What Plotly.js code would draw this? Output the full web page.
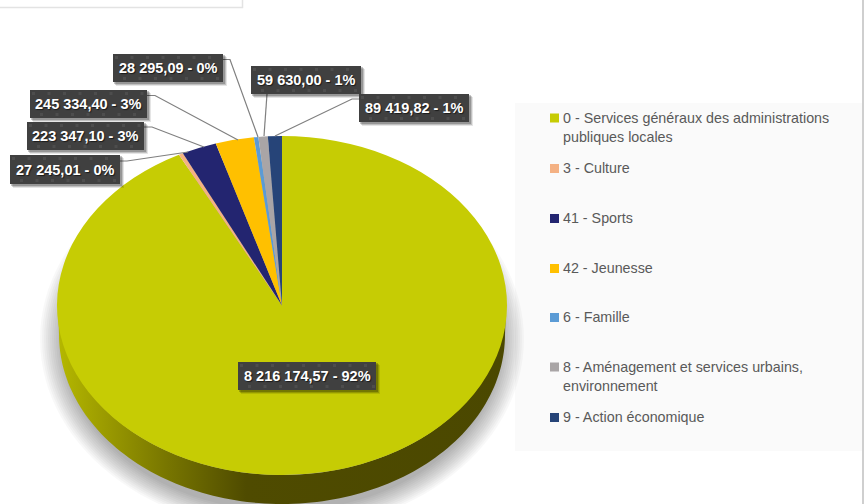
<!DOCTYPE html>
<html>
<head>
<meta charset="utf-8">
<script src="https://cdn.plot.ly/plotly-3.0.1.min.js"></script>
<style>html,body{margin:0;padding:0;background:#fff;overflow:hidden}</style>
</head>
<body>
<div id="chart" style="width:865px;height:504px"></div>
<script>
// ---- data ----
var categories = [
  "0 - Services généraux des administrations<br>publiques locales",
  "3 - Culture",
  "41 - Sports",
  "42 - Jeunesse",
  "6 - Famille",
  "8 - Aménagement et services urbains,<br>environnement",
  "9 - Action économique"
];
var amounts = [8216174.57, 27245.01, 223347.10, 245334.40, 28295.09, 59630.00, 89419.82];
var sliceColors = ["#c6cc04", "#f4b183", "#232570", "#ffc000", "#5b9bd5", "#a9a5a6", "#264478"];

// ---- layout constants (pixels) ----
var W = 865, H = 504;
var cx = 282, cy = 305.5, rx = 225, ry = 169.5, depth = 29;
// label box: left, top, right, bottom for each slice
var labelBoxes = [
  [238, 362, 376, 390], [10, 155, 120, 184], [27, 122, 144, 150], [30, 90, 147, 118],
  [113, 54, 223, 82], [251, 66, 361, 94], [359, 94, 469, 122]
];
var leaderPaths = [
  null,
  "M120,161L127,161L188,152",
  "M144,127L152,127L204,147",
  "M147,95.5L155,95.5L238,140",
  "M223,59.5L230,59.5L258,137",
  "M267,94L264,136",
  "M359,99L352,99L275,136"
];
var legendY = [110.5, 161, 211, 261, 310, 359.5, 410];

function px(x) { return x / W; }
function py(y) { return 1 - y / H; }

function arc(c, a, b, from, to, n) {
  var xs = [], ys = [];
  for (var i = 0; i <= n; i++) {
    var t = from + (to - from) * i / n;
    xs.push(cx + a * Math.cos(t));
    ys.push(c + b * Math.sin(t));
  }
  return {x: xs, y: ys};
}

var traces = [];
// soft drop shadow behind the disc
for (var s = 0; s < 12; s++) {
  var e = arc(339, 220 + s * 2, 172 + s * 1.8, 0, 2 * Math.PI, 120);
  traces.push({type: "scatter", mode: "none", x: e.x, y: e.y, fill: "toself",
    fillcolor: "rgba(0,0,0,0.026)", hoverinfo: "skip", showlegend: false});
}
// side wall of the disc
var outer = arc(cy + depth, rx - 2, ry, 0, Math.PI, 120);
var inner = arc(cy, rx - 1, ry, Math.PI, 0, 120);
traces.push({type: "scatter", mode: "none",
  x: outer.x.concat(inner.x), y: outer.y.concat(inner.y), fill: "toself",
  fillgradient: {type: "horizontal", colorscale: [
    [0, "#b5b800"], [0.1, "#9c9c00"], [0.25, "#767400"], [0.42, "#4f4b00"], [1, "#4b4800"]
  ]},
  hoverinfo: "skip", showlegend: false});
// top face
traces.push({type: "pie", labels: categories, values: amounts, sort: false,
  direction: "clockwise", rotation: 0, textinfo: "none", showlegend: false,
  marker: {colors: sliceColors, line: {width: 0}},
  domain: {x: [px(cx - ry), px(cx + ry)], y: [py(cy + ry), py(cy - ry)]}
});

var total = amounts.reduce(function (a, b) { return a + b; }, 0);
function fmt(v) {
  var p = v.toFixed(2).split(".");
  return p[0].replace(/\B(?=(\d{3})+$)/g, " ") + "," + p[1] + " - " + Math.round(v / total * 100) + "%";
}

var shapes = [
  {type: "rect", layer: "below", xref: "paper", yref: "paper", x0: px(515), x1: px(862), y0: py(451), y1: py(103),
    fillcolor: "#fafafa", line: {width: 0}},
  {type: "path", xref: "x", yref: "y", path: "M0,7.5L242.5,7.5L242.5,0", line: {color: "#e3e3e3", width: 1.5}},
  {type: "rect", xref: "x", yref: "y", x0: 862, x1: 864, y0: 0, y1: 504, fillcolor: "#cfcfcf", line: {width: 0}}
];
function box(x0, y0, x1, y1, color) {
  shapes.push({type: "rect", xref: "x", yref: "y", x0: x0, x1: x1, y0: y0, y1: y1,
    fillcolor: color, line: {width: 0}});
}
var annotations = [];
labelBoxes.forEach(function (b, i) {
  if (leaderPaths[i]) shapes.push({type: "path", xref: "x", yref: "y", path: leaderPaths[i],
    line: {color: "#7f7f7f", width: 1.2}});
  [[4, 0.10], [3, 0.16], [2, 0.22]].forEach(function (d) {
    box(b[0] + d[0] - 1, b[1] + d[0] - 1, b[2] + d[0], b[3] + d[0], "rgba(0,0,0," + d[1] + ")");
  });
  box(b[0], b[1], b[2], b[3], "#404040");
  // faint dotted texture of the label boxes
  for (var dx = b[0] + 2; dx < b[2] - 3; dx += 15.5) {
    box(dx, b[1] + 2, dx + 3, b[1] + 5, "#4d4d4d");
    if (dx + 8 < b[2] - 3) box(dx + 8, b[3] - 5, dx + 11, b[3] - 2, "#4d4d4d");
  }
  annotations.push({xref: "x", yref: "y", x: (b[0] + b[2]) / 2, y: (b[1] + b[3]) / 2,
    xanchor: "center", yanchor: "middle", showarrow: false, text: fmt(amounts[i]),
    borderpad: 0,
    font: {family: "Liberation Sans, Arial, sans-serif", size: 14.5, color: "#ffffff", weight: 700,
      shadow: "1px 1px 1px rgba(0,0,0,0.6)"}});
});
categories.forEach(function (c, i) {
  box(550, legendY[i] + 3, 559, legendY[i] + 12, sliceColors[i]);
  annotations.push({xref: "x", yref: "y", x: 562, y: legendY[i] - 2, xanchor: "left", yanchor: "top", align: "left",
    showarrow: false, text: c, borderpad: 0,
    font: {family: "Liberation Sans, Arial, sans-serif", size: 14.3, color: "#595959"}});
});

var layout = {
  width: W, height: H, margin: {l: 0, r: 0, t: 0, b: 0}, showlegend: false,
  paper_bgcolor: "#ffffff", plot_bgcolor: "rgba(0,0,0,0)",
  xaxis: {range: [0, W], visible: false, fixedrange: true},
  yaxis: {range: [H, 0], visible: false, fixedrange: true},
  shapes: shapes, annotations: annotations
};

function stretchPie() {
  // The reference disc is seen in perspective: widen the pie's circle into the ellipse.
  var layer = document.querySelector("#chart .pielayer");
  if (layer) layer.setAttribute("transform",
    "translate(" + cx + ",0) scale(" + (rx / ry) + ",1) translate(" + (-cx) + ",0)");
}
var gd = document.getElementById("chart");
Plotly.newPlot(gd, traces, layout, {staticPlot: true, displayModeBar: false}).then(function () {
  stretchPie();
  gd.on("plotly_afterplot", stretchPie);
});
</script>
</body>
</html>
